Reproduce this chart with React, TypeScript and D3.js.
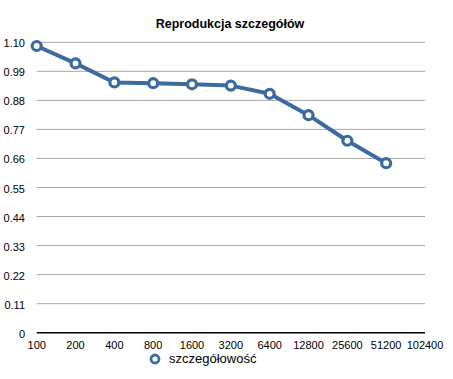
import React from "react";
import * as d3 from "d3";

const categories = ["100", "200", "400", "800", "1600", "3200", "6400", "12800", "25600", "51200", "102400"];
const values = [1.086, 1.02, 0.948, 0.945, 0.941, 0.936, 0.905, 0.824, 0.727, 0.642];
const yTicks = [0, 0.11, 0.22, 0.33, 0.44, 0.55, 0.66, 0.77, 0.88, 0.99, 1.1];
const yTickLabels = ["0", "0.11", "0.22", "0.33", "0.44", "0.55", "0.66", "0.77", "0.88", "0.99", "1.10"];
const title = "Reprodukcja szczegółów";
const seriesName = "szczegółowość";

const W = 453, H = 379;
const left = 36.7, right = 425, top = 42.3, bottom = 332.7;
const color = "#3b6ba0";
const font = "'Liberation Sans', Arial, Helvetica, sans-serif";

export default function App() {
  const x = d3.scalePoint<string>().domain(categories).range([left, right]);
  const y = d3.scaleLinear().domain([0, 1.1]).range([bottom, top]);
  const line = d3.line<number>().x((_, i) => x(categories[i])!).y((d) => y(d));
  return (
    <svg width={W} height={H} style={{ position: "absolute", left: 0, top: 0, background: "#fff" }} fontFamily={font}>
      <rect width={W} height={H} fill="#fff" />
      <text x={230} y={28} textAnchor="middle" fontSize={12.5} fontWeight="bold" fill="#000">{title}</text>
      {yTicks.map((t, i) => (
        <g key={i}>
          {t !== 0 && <line x1={left} x2={right} y1={y(t)} y2={y(t)} stroke="#a8a8a8" strokeWidth={1} />}
          <text x={25} y={y(t) + 5} textAnchor="end" fontSize={11} fill="#000">{yTickLabels[i]}</text>
        </g>
      ))}
      <line x1={left} x2={right} y1={y(0)} y2={y(0)} stroke="#000" strokeWidth={1.5} />
      {categories.map((c) => (
        <text key={c} x={x(c)} y={349} textAnchor="middle" fontSize={11} fill="#000">{c}</text>
      ))}
      <path d={line(values)!} fill="none" stroke={color} strokeWidth={4} strokeLinejoin="round" />
      {values.map((v, i) => (
        <circle key={i} cx={x(categories[i])} cy={y(v)} r={4.5} fill="#fff" stroke={color} strokeWidth={3.2} />
      ))}
      <circle cx={155} cy={359} r={4} fill="#fff" stroke={color} strokeWidth={2.8} />
      <text x={169} y={362.5} fontSize={13} fill="#000">{seriesName}</text>
    </svg>
  );
}
